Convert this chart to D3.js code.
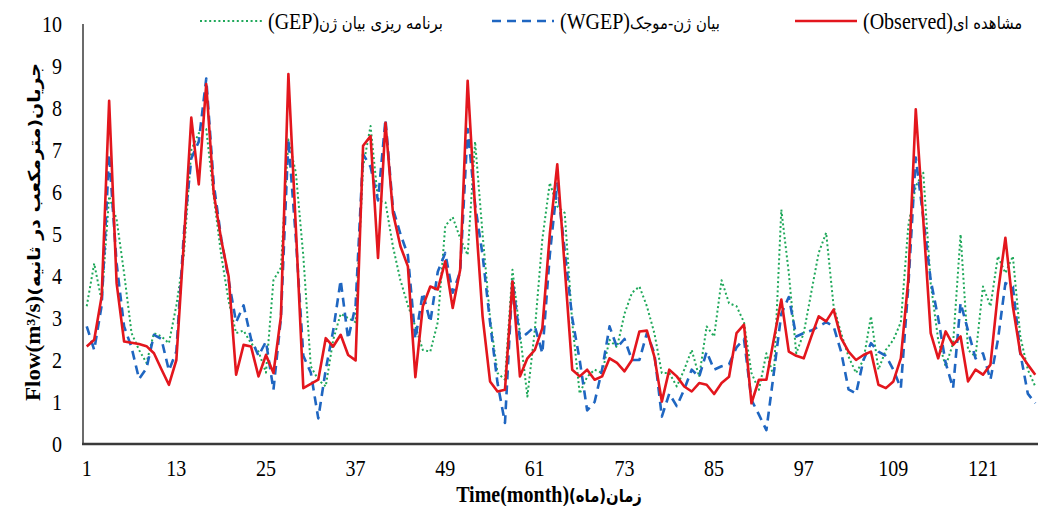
<!DOCTYPE html>
<html>
<head>
<meta charset="utf-8">
<script src="https://cdn.jsdelivr.net/npm/d3@7"></script>
<style>
    body { margin: 0; background: #fff; }
    text { font-family: "Liberation Serif", "Times New Roman", serif; fill: #000; }
    .fa { font-family: "DejaVu Sans", sans-serif; }
</style>
</head>
<body>
<div id="chart"></div>
<script>

const months = d3.range(1, 129);
const xTicks = [1, 13, 25, 37, 49, 61, 73, 85, 97, 109, 121];
const yTicks = d3.range(0, 11);

// observed flow, m3/s, month 1..128
const observed = [
    2.32, 2.48, 3.52, 8.17, 3.83, 2.44, 2.41, 2.38, 2.33, 2.16, 1.78, 1.41, 2.0, 4.8, 7.77, 6.18,
    8.57, 5.98, 4.87, 3.99, 1.65, 2.36, 2.32, 1.61, 2.12, 1.69, 3.04, 8.81, 5.15, 1.33, 1.43, 1.53,
    2.52, 2.32, 2.6, 2.12, 1.99, 7.1, 7.33, 4.43, 7.65, 5.5, 4.71, 4.23, 1.59, 3.28, 3.75, 3.68,
    4.35, 3.24, 4.15, 8.65, 5.6, 3.04, 1.49, 1.25, 1.29, 3.87, 1.61, 2.04, 2.24, 2.76, 5.0, 6.66,
    4.2, 1.77, 1.61, 1.77, 1.53, 1.61, 2.04, 1.93, 1.73, 2.0, 2.68, 2.7, 2.08, 1.01, 1.77, 1.61,
    1.37, 1.25, 1.45, 1.41, 1.19, 1.45, 1.6, 2.64, 2.84, 0.97, 1.53, 1.53, 2.5, 3.44, 2.2, 2.1,
    2.04, 2.55, 3.04, 2.92, 3.2, 2.52, 2.2, 2.0, 2.12, 2.2, 1.41, 1.33, 1.49, 2.04, 3.91, 7.97,
    5.35, 2.64, 2.04, 2.68, 2.36, 2.56, 1.49, 1.77, 1.65, 1.89, 3.6, 4.91, 3.28, 2.16, 1.89, 1.65
];

const wgep = [
    2.8, 2.24, 3.3, 6.9, 4.3, 2.8, 2.3, 1.55, 1.8, 2.6, 2.5, 1.75, 2.2, 5.0, 6.8, 7.2,
    8.7, 6.2, 4.9, 3.9, 2.9, 3.3, 2.5, 2.1, 2.44, 1.29, 3.0, 7.25, 4.9, 2.1, 1.7, 0.61,
    1.77, 2.7, 3.9, 2.5, 3.3, 6.9, 6.6, 5.8, 7.73, 5.6, 5.0, 4.5, 2.5, 3.6, 2.9, 4.1,
    4.55, 3.6, 4.1, 7.5, 5.7, 4.5, 2.9, 1.45, 0.5, 3.9, 2.5, 2.64, 2.8, 2.16, 4.5, 6.2,
    4.6, 3.0, 2.0, 0.8, 1.0, 1.77, 2.8, 2.3, 2.5, 2.0, 2.0, 2.64, 2.16, 0.65, 1.2, 0.9,
    1.3, 1.77, 1.6, 2.2, 1.77, 1.85, 1.9, 2.3, 2.5, 1.05, 0.7, 0.33, 1.7, 3.1, 3.5, 2.56,
    2.64, 2.7, 2.8, 2.9, 2.8, 2.2, 1.3, 1.2, 2.0, 2.4, 2.2, 2.1, 1.77, 1.33, 3.75, 6.82,
    5.4, 3.9, 3.0, 1.93, 1.33, 3.36, 2.7, 2.04, 2.16, 1.53, 2.48, 3.83, 3.75, 2.16, 1.2, 0.97
];

const gep = [
    3.28, 4.3, 3.4, 5.9, 5.35, 4.07, 2.64, 2.24, 1.93, 2.64, 2.56, 2.4, 3.3, 4.5, 7.0, 7.4,
    7.5, 5.9, 4.5, 3.4, 2.64, 2.7, 2.4, 2.2, 1.7, 3.9, 4.2, 7.25, 6.46, 4.47, 1.85, 1.53,
    1.37, 2.48, 3.1, 3.0, 2.9, 6.6, 7.57, 5.8, 5.75, 4.7, 3.9, 3.3, 2.8, 2.24, 2.2, 2.9,
    5.19, 5.4, 4.9, 4.5, 7.2, 5.0, 3.0, 1.69, 1.53, 4.15, 2.64, 1.13, 2.72, 4.87, 6.22, 5.66,
    5.5, 2.9, 1.2, 1.6, 1.77, 1.69, 2.48, 2.3, 3.1, 3.6, 3.75, 3.28, 2.64, 1.69, 1.69, 1.37,
    1.77, 2.24, 1.6, 2.8, 2.56, 3.9, 3.35, 3.28, 2.9, 1.69, 1.29, 2.16, 1.6, 5.58, 4.07, 2.16,
    2.64, 3.6, 4.55, 5.03, 3.28, 2.64, 2.08, 1.69, 2.0, 3.04, 1.77, 2.24, 2.48, 2.9, 5.19, 6.14,
    6.46, 3.83, 2.48, 1.85, 2.4, 4.99, 2.24, 2.08, 3.75, 3.28, 4.47, 4.07, 4.47, 2.56, 1.77, 1.37
];

const seriesLabelsFa = ["برنامه ریزی بیان ژن", "بیان ژن-موجک", "مشاهده ای"];

const width = 1038;
const height = 506;
// the picture is squeezed sideways, text looks tall and narrow
const squeeze = 0.87;

const svg = d3.select("#chart")
    .append("svg")
        .attr("width", width)
        .attr("height", height);

const x = d3.scalePoint()
    .domain(months)
    .range([83, 1039])
    .padding(0.5);

const y = d3.scaleLinear()
    .domain([0, 10])
    .range([444, 24]);

const series = [
    { name: "GEP", values: gep, color: "#1fa85a", width: 2, dash: "2,2.6", legendX: 200 },
    { name: "WGEP", values: wgep, color: "#1f66c1", width: 2.6, dash: "9,6", legendX: 492 },
    { name: "Observed", values: observed, color: "#e3161d", width: 2.6, dash: null, legendX: 795 }
];

// axes lines
svg.append("line")
    .attr("x1", 83).attr("x2", 83)
    .attr("y1", y(10)).attr("y2", y(0))
    .attr("stroke", "#3a3a3a")
    .attr("stroke-width", 1.5);

svg.append("line")
    .attr("x1", 82).attr("x2", width)
    .attr("y1", y(0)).attr("y2", y(0))
    .attr("stroke", "#3a3a3a")
    .attr("stroke-width", 2.5);

// tick labels
svg.selectAll(".ytick")
    .data(yTicks)
    .enter()
    .append("text")
        .attr("transform", d => `translate(62, ${y(d)}) scale(${squeeze}, 1)`)
        .attr("dy", "0.35em")
        .attr("text-anchor", "end")
        .attr("font-size", 23)
        .text(d => d);

svg.selectAll(".xtick")
    .data(xTicks)
    .enter()
    .append("text")
        .attr("transform", d => `translate(${x(d)}, 468) scale(${squeeze}, 1)`)
        .attr("dy", "0.35em")
        .attr("text-anchor", "middle")
        .attr("font-size", 23)
        .text(d => d);

// lines
const line = d3.line()
    .x((d, i) => x(months[i]))
    .y(d => y(d));

svg.selectAll(".series")
    .data(series)
    .enter()
    .append("path")
        .attr("d", d => line(d.values))
        .attr("fill", "none")
        .attr("stroke", d => d.color)
        .attr("stroke-width", d => d.width)
        .attr("stroke-dasharray", d => d.dash)
        .attr("stroke-linejoin", "round");

// legend
const legend = svg.selectAll(".legend")
    .data(series)
    .enter()
    .append("g")
        .attr("transform", d => `translate(${d.legendX}, 21)`);

legend.append("line")
    .attr("x1", 0).attr("x2", 62)
    .attr("stroke", d => d.color)
    .attr("stroke-width", d => d.width)
    .attr("stroke-dasharray", d => d.dash);

const legendText = legend.append("text")
    .attr("transform", `translate(68, 0) scale(${squeeze}, 1)`)
    .attr("dy", "0.35em")
    .attr("font-size", 23);

legendText.append("tspan")
    .text(d => `(${d.name})`);

legendText.append("tspan")
    .attr("class", "fa")
    .attr("font-size", 17)
    .text((d, i) => seriesLabelsFa[i]);

// axis titles
const xTitle = svg.append("text")
    .attr("transform", `translate(549, 494) scale(${squeeze}, 1)`)
    .attr("dy", "0.35em")
    .attr("text-anchor", "middle")
    .attr("font-size", 23)
    .attr("font-weight", "bold");

xTitle.append("tspan").text("Time(month)");
xTitle.append("tspan")
    .attr("class", "fa")
    .attr("font-size", 17)
    .text("زمان(ماه)\u200F");

const yTitle = svg.append("text")
    .attr("transform", `translate(33, 232) rotate(-90) scale(1, ${squeeze})`)
    .attr("dy", "0.35em")
    .attr("text-anchor", "middle")
    .attr("font-size", 23)
    .attr("font-weight", "bold");

yTitle.append("tspan").text("Flow(m³/s)");
yTitle.append("tspan")
    .attr("class", "fa")
    .attr("font-size", 19)
    .text("جریان(مترمکعب در ثانیه)\u200F");

</script>
</body>
</html>
